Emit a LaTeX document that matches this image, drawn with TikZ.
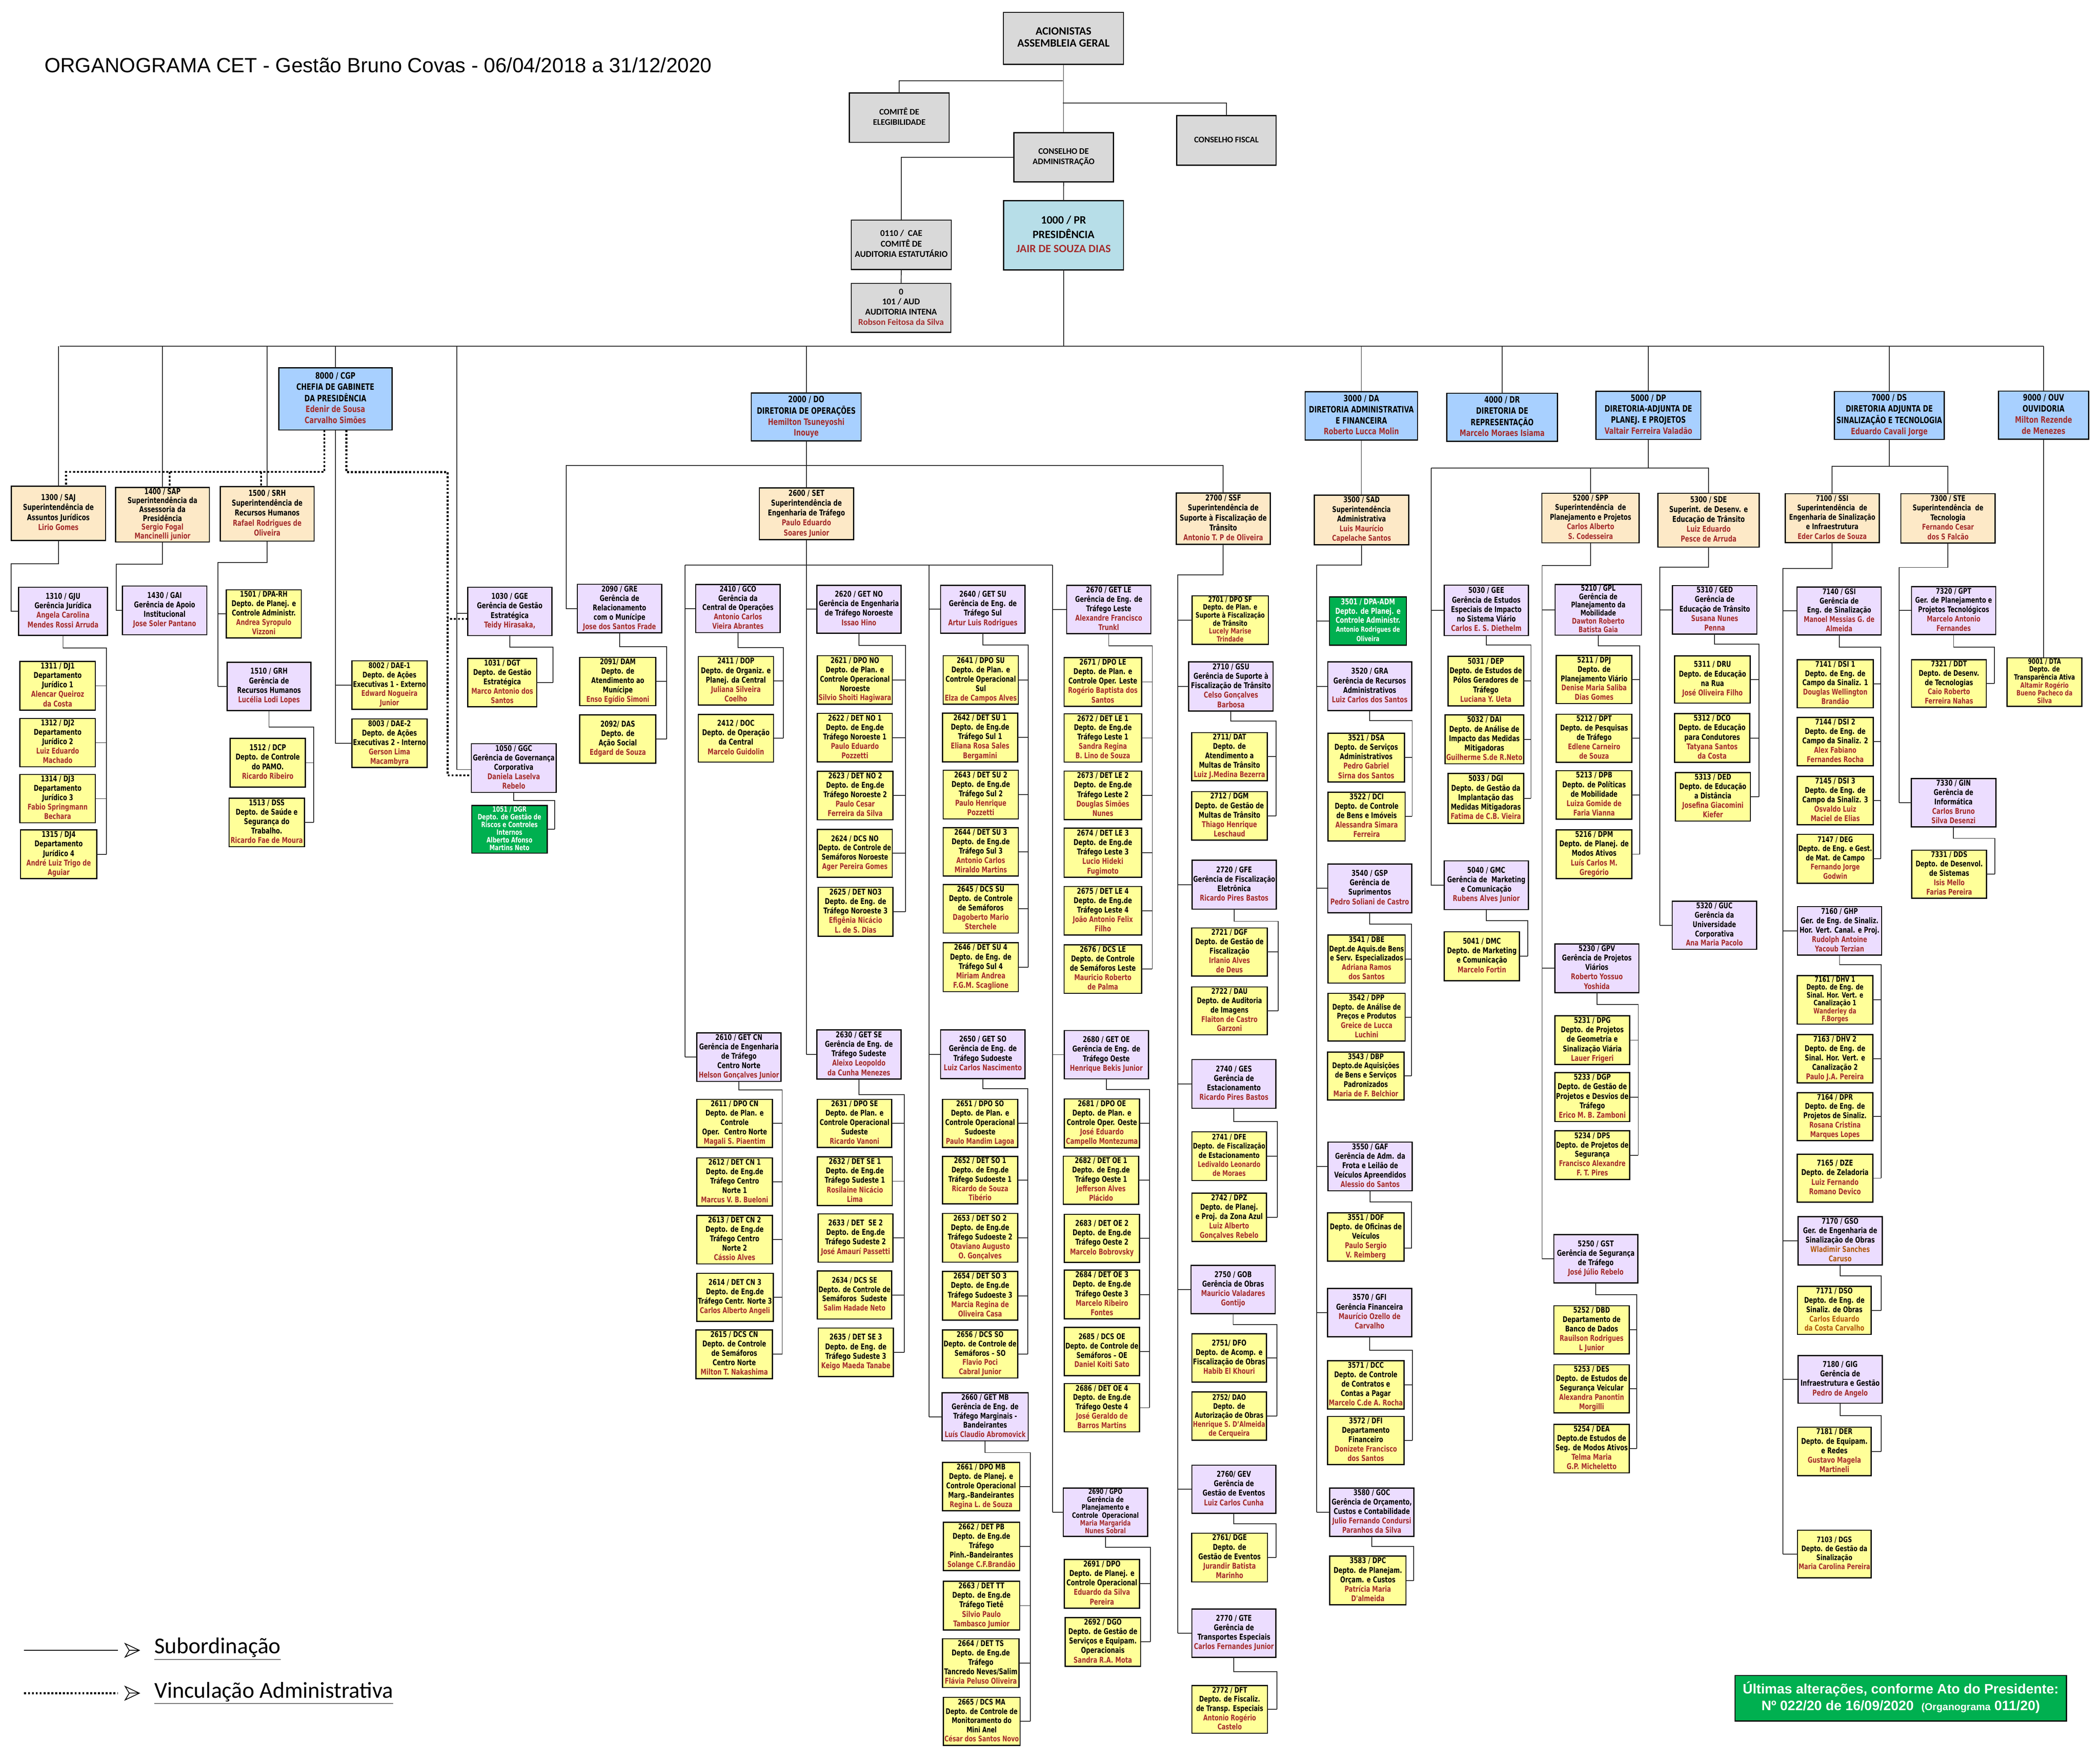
\documentclass[tikz,border=0pt]{standalone}
\usepackage{fontspec}
\usepackage{graphicx}
\usetikzlibrary{calc}
\setmainfont{DejaVu Sans}
\newfontfamily\bxf[FakeStretch=0.74]{DejaVu Sans}
\newfontfamily\clb{Carlito}
\newfontfamily\ars{Liberation Sans}
\newfontfamily\djv{DejaVu Sans}
\definecolor{greyf}{RGB}{217,217,217}
\definecolor{presf}{RGB}{183,222,232}
\definecolor{dirf}{RGB}{168,208,255}
\definecolor{supf}{RGB}{253,233,199}
\definecolor{gerf}{RGB}{236,221,255}
\definecolor{depf}{RGB}{255,255,153}
\definecolor{grnf}{RGB}{0,176,80}
\definecolor{nmred}{RGB}{165,45,45}
\definecolor{nmorg}{RGB}{178,90,10}
\newcommand\nm[1]{{\color{nmred}#1}}
\newcommand\no[1]{{\color{nmorg}#1}}
\newsavebox\fbx
\newdimen\fbw \newdimen\fbh
\newcommand\fitin[3]{\sbox\fbx{#3}\fbw=\wd\fbx\relax\fbh=\ht\fbx\relax\advance\fbh by \dp\fbx\relax
 \pgfmathsetmacro\fsc{min(1,(#1)/\fbw,(#2)/\fbh)}\scalebox{\fsc}{\usebox\fbx}}
\newcommand\bx[7]{%
 \pgfmathsetmacro\bw{#5-#3}\pgfmathsetmacro\bh{#6-#4}%
 \node[#1,minimum width=\bw pt,minimum height=\bh pt] (#2) at ({(#3+#5)/2},{(#4+#6)/2})
 {\fitin{\bw-1.8}{\bh-1.0}{\begin{tabular}{@{}c@{}}#7\end{tabular}}};}
\tikzset{
 bbox/.style={draw=black,line width=0.85pt,inner sep=0pt,outer sep=0pt},
 gry/.style={bbox,fill=greyf,font=\clb\bfseries\fontsize{6.4}{7.7}\selectfont},
 gryL/.style={bbox,fill=greyf,font=\clb\bfseries\fontsize{8.4}{8.8}\selectfont},
 prs/.style={bbox,fill=presf,font=\clb\bfseries\fontsize{8.4}{10.7}\selectfont},
 audb/.style={bbox,fill=greyf,font=\clb\bfseries\fontsize{6.6}{7.65}\selectfont},
 dir/.style={bbox,fill=dirf,font=\bxf\bfseries\fontsize{6.6}{8.2}\selectfont},
 sup/.style={bbox,fill=supf,font=\bxf\bfseries\fontsize{6.1}{7.4}\selectfont},
 sup6/.style={bbox,fill=supf,font=\bxf\bfseries\fontsize{6.1}{6.6}\selectfont},
 ger/.style={bbox,fill=gerf,font=\bxf\bfseries\fontsize{6}{7.1}\selectfont},
 ger6/.style={bbox,fill=gerf,font=\bxf\bfseries\fontsize{6}{6.0}\selectfont},
 dep/.style={bbox,fill=depf,font=\bxf\bfseries\fontsize{6}{7.1}\selectfont},
 dep6/.style={bbox,fill=depf,font=\bxf\bfseries\fontsize{6}{5.9}\selectfont},
 grn/.style={bbox,fill=grnf,text=white,font=\bxf\bfseries\fontsize{6}{6.8}\selectfont},
 grn6/.style={bbox,fill=grnf,text=white,font=\bxf\bfseries\fontsize{6}{5.8}\selectfont},
 conn/.style={draw=black!85,line width=0.6pt},
 vinc/.style={draw=black,line width=1.5pt,dash pattern=on 1.5pt off 1.4pt},
 arrsym/.style={draw=black,line width=0.6pt,fill=white,line join=miter},
}
\newcommand\grpR[5]{\draw[conn] (#1.south) |- (#3,#2) -- (#3,#2 |- #4.east);
 \foreach \ch in {#5}{\draw[conn] (\ch.east) -- (#3,#2 |- \ch.east);}}
\newcommand\grpL[5]{\draw[conn] (#1.south) |- (#3,#2) -- (#3,#2 |- #4.west);
 \foreach \ch in {#5}{\draw[conn] (\ch.west) -- (#3,#2 |- \ch.west);}}
\begin{document}
\begin{tikzpicture}[x=1pt,y=-1pt]
\fill[white] (0,0) rectangle (1568,1314.6);
\useasboundingbox (0,0) rectangle (1568,1314.6);
% title
\node[anchor=west,inner sep=0pt,font=\ars\fontsize{15.3}{18}\selectfont] (title) at (33,48.5) {ORGANOGRAMA CET - Gestão Bruno Covas - 06/04/2018 a 31/12/2020};
% top
\bx{gryL}{acion}{749.2}{9.3}{838.9}{48}{ACIONISTAS\\ASSEMBLEIA GERAL}
\bx{gry}{celeg}{634.2}{69.4}{708.7}{106.3}{COMITÊ DE\\ELEGIBILIDADE}
\bx{gry}{cfisc}{878.6}{86.3}{952.8}{123.3}{CONSELHO FISCAL}
\bx{gry}{cadm}{757}{99}{831.3}{135.8}{CONSELHO DE\\ADMINISTRAÇÃO}
\bx{prs}{n1000}{749.3}{149.9}{838.9}{201.4}{1000 / PR\\PRESIDÊNCIA\\\nm{JAIR DE SOUZA DIAS}}
\bx{audb}{n0110}{635.6}{164.3}{710.3}{201.1}{0110 / \ CAE\\COMITÊ DE\\AUDITORIA ESTATUTÁRIO}
\bx{audb}{n0101}{635.6}{211.5}{710}{248.1}{0\\101 / AUD\\AUDITORIA INTENA\\\nm{Robson Feitosa da Silva}}
% directors
\bx{dir}{n8000}{208.1}{274.6}{292.7}{321}{8000 / CGP\\CHEFIA DE GABINETE\\DA PRESIDÊNCIA\\\nm{Edenir de Sousa}\\\nm{Carvalho Simões}}
\bx{dir}{n2000}{561}{293.4}{643}{329.2}{2000 / DO\\DIRETORIA DE OPERAÇÕES\\\nm{Hemilton Tsuneyoshi}\\\nm{Inouye}}
\bx{dir}{n3000}{974.5}{292.5}{1058.4}{328.5}{3000 / DA\\DIRETORIA ADMINISTRATIVA\\E FINANCEIRA\\\nm{Roberto Lucca Molin}}
\bx{dir}{n4000}{1080.2}{293.6}{1163}{329.5}{4000 / DR\\DIRETORIA DE\\REPRESENTAÇÃO\\\nm{Marcelo Moraes Isiama}}
\bx{dir}{n5000}{1191.7}{292.1}{1269.9}{328}{5000 / DP\\DIRETORIA-ADJUNTA DE\\PLANEJ. E PROJETOS\\\nm{Valtair Ferreira Valadão}}
\bx{dir}{n7000}{1369.7}{292.3}{1451.6}{328}{7000 / DS\\DIRETORIA ADJUNTA DE\\SINALIZAÇÃO E TECNOLOGIA\\\nm{Eduardo Cavali Jorge}}
\bx{dir}{n9000}{1492.2}{292}{1559.5}{327.9}{9000 / OUV\\OUVIDORIA\\\nm{Milton Rezende}\\\nm{de Menezes}}
% superintendencias
\bx{sup}{n1300}{8.4}{362.9}{78.8}{403.5}{1300 / SAJ\\Superintendência de\\Assuntos Jurídicos\\\nm{Lirio Gomes}}
\bx{sup6}{n1400}{86.3}{364}{156.3}{404.6}{1400 / SAP\\Superintendência da\\Assessoria da\\Presidência\\\nm{Sergio Fogal}\\\nm{Mancinelli junior}}
\bx{sup}{n1500}{164.5}{363.3}{234.5}{404}{1500 / SRH\\Superintendência de\\Recursos Humanos\\\nm{Rafael Rodrigues de}\\\nm{Oliveira}}
\bx{sup}{n2600}{567}{364.2}{637.3}{402.9}{2600 / SET\\Superintendência de\\Engenharia de Tráfego\\\nm{Paulo Eduardo}\\\nm{Soares Junior}}
\bx{sup}{n2700}{878.2}{368}{948.5}{406.4}{2700 / SSF\\Superintendência de\\Suporte à Fiscalização de\\Trânsito\\\nm{Antonio T. P de Oliveira}}
\bx{sup}{n3500}{981.4}{369.6}{1051.8}{406.6}{3500 / SAD\\Superintendência\\Administrativa\\\nm{Luis Maurício}\\\nm{Capelache Santos}}
\bx{sup}{n5200}{1151.3}{368.2}{1223.9}{405.2}{5200 / SPP\\Superintendência \ de\\Planejamento e Projetos\\\nm{Carlos Alberto}\\\nm{S. Codesseira}}
\bx{sup}{n5300}{1237.9}{368.2}{1313.6}{408.4}{5300 / SDE\\Superint. de Desenv. e\\Educação de Trânsito\\\nm{Luiz Eduardo}\\\nm{Pesce de Arruda}}
\bx{sup}{n7100}{1332.9}{368.5}{1403.2}{405}{7100 / SSI\\Superintendência \ de\\Engenharia de Sinalização\\e Infraestrutura\\\nm{Eder Carlos de Souza}}
\bx{sup}{n7300}{1419.3}{368.5}{1489.7}{405.4}{7300 / STE\\Superintendência \ de\\Tecnologia\\\nm{Fernando Cesar}\\\nm{dos S Falcão}}
% left area
\bx{ger}{n1310}{13.8}{438.4}{80.3}{474.3}{1310 / GJU\\Gerência Jurídica\\\nm{Angela Carolina}\\\nm{Mendes Rossi Arruda}}
\bx{dep}{n1311}{14.9}{493.8}{71.2}{530.1}{1311 / DJ1\\Departamento\\Jurídico 1\\\nm{Alencar Queiroz}\\\nm{da Costa}}
\bx{dep}{n1312}{14.9}{536.4}{71.2}{572.4}{1312 / DJ2\\Departamento\\Jurídico 2\\\nm{Luiz Eduardo}\\\nm{Machado}}
\bx{dep}{n1314}{14.9}{578.2}{71.2}{614.2}{1314 / DJ3\\Departamento\\Jurídico 3\\\nm{Fabio Springmann}\\\nm{Bechara}}
\bx{dep}{n1315}{15.3}{619.6}{72.3}{655.9}{1315 / DJ4\\Departamento\\Jurídico 4\\\nm{André Luiz Trigo de}\\\nm{Aguiar}}
\bx{ger}{n1430}{91.4}{437.5}{154.4}{473.8}{1430 / GAI\\Gerência de Apoio\\Institucional\\\nm{Jose Soler Pantano}}
\bx{dep}{n1501}{168.9}{440.3}{225}{476.3}{1501 / DPA-RH\\Depto. de Planej. e\\Controle Administr.\\\nm{Andrea Syropulo}\\\nm{Vizzoni}}
\bx{ger}{n1510}{169.5}{494.4}{232.2}{530.4}{1510 / GRH\\Gerência de\\Recursos Humanos\\\nm{Lucélia Lodi Lopes}}
\bx{dep}{n1512}{171.8}{551.2}{228}{587.6}{1512 / DCP\\Depto. de Controle\\do PAMO.\\\nm{Ricardo Ribeiro}}
\bx{dep}{n1513}{171}{595.9}{227.3}{632.1}{1513 / DSS\\Depto. de Saúde e\\Segurança do\\Trabalho.\\\nm{Ricardo Fae de Moura}}
\bx{dep}{n8002}{262.7}{493.3}{318.9}{529.6}{8002 / DAE-1\\Depto. de Ações\\Executivas 1 - Externo\\\nm{Edward Nogueira}\\\nm{Junior}}
\bx{dep}{n8003}{262.7}{536.7}{318.9}{573}{8003 / DAE-2\\Depto. de Ações\\Executivas 2 - Interno\\\nm{Gerson Lima}\\\nm{Macambyra}}
\bx{ger}{n1030}{349.2}{438.4}{412}{474.5}{1030 / GGE\\Gerência de Gestão\\Estratégica\\\nm{Teidy Hirasaka,}}
\bx{dep}{n1031}{349.2}{491.6}{400.8}{527.6}{1031 / DGT\\Depto. de Gestão\\Estratégica\\\nm{Marco Antonio dos}\\\nm{Santos}}
\bx{ger}{n1050}{352}{555.2}{415.2}{591.6}{1050 / GGC\\Gerência de Governança\\Corporativa\\\nm{Daniela Laselva}\\\nm{Rebelo}}
\bx{grn6}{n1051}{352.3}{601.4}{408.5}{636.9}{1051 / DGR\\Depto. de Gestão de\\Riscos e Controles\\Internos\\Alberto Afonso\\Martins Neto}
\bx{ger}{n2090}{431.1}{436.2}{494}{472.3}{2090 / GRE\\Gerência de\\Relacionamento\\com o Munícipe\\\nm{Jose dos Santos Frade}}
\bx{dep}{n2091}{432.9}{490.7}{489.7}{526.8}{2091/ DAM\\Depto. de\\Atendimento ao\\Munícipe\\\nm{Enso Egídio Simoni}}
\bx{dep}{n2092}{432.9}{533.7}{489.7}{569.8}{2092/ DAS\\Depto. de\\Ação Social\\\nm{Edgard de Souza}}
% 2410
\bx{ger}{n2410}{519.5}{436.3}{582.5}{472.2}{2410 / GCO\\Gerência da\\Central de Operações\\\nm{Antonio Carlos}\\\nm{Vieira Abrantes}}
\bx{dep}{n2411}{521.4}{490.1}{577.5}{526.3}{2411 / DOP\\Depto. de Organiz. e\\Planej. da Central\\\nm{Juliana Silveira}\\\nm{Coelho}}
\bx{dep}{n2412}{521.4}{533.4}{577.5}{568.9}{2412 / DOC\\Depto. de Operação\\da Central\\\nm{Marcelo Guidolin}}
% 2620
\bx{ger}{n2620}{609.9}{436.9}{672.7}{472.7}{2620 / GET NO\\Gerência de Engenharia\\de Tráfego Noroeste\\\nm{Issao Hino}}
\bx{dep}{n2621}{610.3}{489.5}{666.3}{525.7}{2621 / DPO NO\\Depto. de Plan. e\\Controle Operacional\\Noroeste\\\nm{Silvio Shoiti Hagiwara}}
\bx{dep}{n2622}{610.3}{532.6}{666.3}{568.7}{2622 / DET NO 1\\Depto. de Eng.de\\Tráfego Noroeste 1\\\nm{Paulo Eduardo}\\\nm{Pozzetti}}
\bx{dep}{n2623}{610.3}{575.8}{666.8}{612}{2623 / DET NO 2\\Depto. de Eng.de\\Tráfego Noroeste 2\\\nm{Paulo Cesar}\\\nm{Ferreira da Silva}}
\bx{dep}{n2624}{610.3}{619.1}{666.3}{654.9}{2624 / DCS NO\\Depto. de Controle de\\Semáforos Noroeste\\\nm{Ager Pereira Gomes}}
\bx{dep}{n2625}{610.8}{662.4}{666.8}{698.9}{2625 / DET NO3\\Depto. de Eng. de\\Tráfego Noroeste 3\\\nm{Efigênia Nicácio}\\\nm{L. de S. Dias}}
% 2640
\bx{ger}{n2640}{702.3}{436.9}{765.4}{472.7}{2640 / GET SU\\Gerência de Eng. de\\Tráfego Sul\\\nm{Artur Luis Rodrigues}}
\bx{dep}{n2641}{704.2}{489.5}{760.4}{525.7}{2641 / DPO SU\\Depto. de Plan. e\\Controle Operacional\\Sul\\\nm{Elza de Campos Alves}}
\bx{dep}{n2642}{703.7}{532.3}{759.9}{568.7}{2642 / DET SU 1\\Depto. de Eng.de\\Tráfego Sul 1\\\nm{Eliana Rosa Sales}\\\nm{Bergamini}}
\bx{dep}{n2643}{704.2}{575}{760.4}{611.4}{2643 / DET SU 2\\Depto. de Eng.de\\Tráfego Sul 2\\\nm{Paulo Henrique}\\\nm{Pozzetti}}
\bx{dep}{n2644}{704.2}{617.8}{760.4}{654}{2644 / DET SU 3\\Depto. de Eng.de\\Tráfego Sul 3\\\nm{Antonio Carlos}\\\nm{Miraldo Martins}}
\bx{dep}{n2645}{704.2}{660.4}{760.4}{696.6}{2645 / DCS SU\\Depto. de Controle\\de Semáforos\\\nm{Dagoberto Mario}\\\nm{Sterchele}}
\bx{dep}{n2646}{704.2}{703.8}{760.4}{740.3}{2646 / DET SU 4\\Depto. de Eng. de\\Tráfego Sul 4\\\nm{Miriam Andrea}\\\nm{F.G.M. Scaglione}}
% 2670
\bx{ger}{n2670}{796.4}{437}{859.3}{473.1}{2670 / GET LE\\Gerência de Eng. de\\Tráfego Leste\\\nm{Alexandre Francisco}\\\nm{Trunkl}}
\bx{dep}{n2671}{794.5}{491}{852.4}{527.2}{2671 / DPO LE\\Depto. de Plan. e\\Controle Oper. Leste\\\nm{Rogério Baptista dos}\\\nm{Santos}}
\bx{dep}{n2672}{794.5}{532.9}{852.4}{568.9}{2672 / DET LE 1\\Depto. de Eng.de\\Tráfego Leste 1\\\nm{Sandra Regina}\\\nm{B. Lino de Souza}}
\bx{dep}{n2673}{794.5}{575.6}{852.4}{611.8}{2673 / DET LE 2\\Depto. de Eng.de\\Tráfego Leste 2\\\nm{Douglas Simões}\\\nm{Nunes}}
\bx{dep}{n2674}{794.5}{618.3}{852.4}{654.9}{2674 / DET LE 3\\Depto. de Eng.de\\Tráfego Leste 3\\\nm{Lucio Hideki}\\\nm{Fugimoto}}
\bx{dep}{n2675}{794.5}{661.8}{852.4}{698.1}{2675 / DET LE 4\\Depto. de Eng.de\\Tráfego Leste 4\\\nm{João Antonio Felix}\\\nm{Filho}}
\bx{dep}{n2676}{794.5}{705.4}{852.4}{741.6}{2676 / DCS LE\\Depto. de Controle\\de Semáforos Leste\\\nm{Mauricio Roberto}\\\nm{de Palma}}
% 2700 branch
\bx{dep6}{n2701}{890}{444.8}{947}{481.1}{2701 / DPO SF\\Depto. de Plan. e\\Suporte à Fiscalização\\de Trânsito\\\nm{Lucely Marise}\\\nm{Trindade}}
\bx{ger}{n2710}{887.6}{494.2}{950.6}{530.8}{2710 / GSU\\Gerência de Suporte à\\Fiscalização de Trânsito\\\nm{Celso Gonçalves}\\\nm{Barbosa}}
\bx{dep}{n2711}{889.8}{546.9}{946.2}{582.8}{2711/ DAT\\Depto. de\\Atendimento a\\Multas de Trânsito\\\nm{Luiz J.Medina Bezerra}}
\bx{dep}{n2712}{889.8}{590.9}{946.2}{627.2}{2712 / DGM\\Depto. de Gestão de\\Multas de Trânsito\\\nm{Thiago Henrique}\\\nm{Leschaud}}
\bx{ger}{n2720}{890}{642.2}{953}{678.7}{2720 / GFE\\Gerência de Fiscalização\\Eletrônica\\\nm{Ricardo Pires Bastos}}
\bx{dep}{n2721}{889.8}{692.7}{946.2}{728.7}{2721 / DGF\\Depto. de Gestão de\\Fiscalização\\\nm{Irlanio Alves}\\\nm{de Deus}}
\bx{dep}{n2722}{889.8}{736.8}{946.2}{772.5}{2722 / DAU\\Depto. de Auditoria\\de Imagens\\\nm{Flaiton de Castro}\\\nm{Garzoni}}
\bx{ger}{n2740}{889.9}{791}{952.7}{827.4}{2740 / GES\\Gerência de\\Estacionamento\\\nm{Ricardo Pires Bastos}}
\bx{dep}{n2741}{889.9}{844.9}{945.6}{881.3}{2741 / DFE\\Depto. de Fiscalização\\de Estacionamento\\\nm{Ledivaldo Leonardo}\\\nm{de Moraes}}
\bx{dep}{n2742}{889.9}{890.7}{945.6}{926.8}{2742 / DPZ\\Depto. de Planej.\\e Proj. da Zona Azul\\\nm{Luiz Alberto}\\\nm{Gonçalves Rebelo}}
\bx{ger}{n2750}{889.3}{944.7}{952.1}{980.7}{2750 / GOB\\Gerência de Obras\\\nm{Mauricio Valadares}\\\nm{Gontijo}}
\bx{dep}{n2751}{889.9}{995.8}{945.6}{1031.8}{2751/ DFO\\Depto. de Acomp. e\\Fiscalização de Obras\\\nm{Habib El Khouri}}
\bx{dep}{n2752}{889.9}{1039.2}{945.6}{1075.2}{2752/ DAO\\Depto. de\\Autorização de Obras\\\nm{Henrique S. D’Almeida}\\\nm{de Cerqueira}}
\bx{ger}{n2760}{889.9}{1093.8}{952.7}{1129.8}{2760/ GEV\\Gerência de\\Gestão de Eventos\\\nm{Luiz Carlos Cunha}}
\bx{dep}{n2761}{889.7}{1144.5}{946.4}{1180.9}{2761/ DGE\\Depto. de\\Gestão de Eventos\\\nm{Jurandir Batista}\\\nm{Marinho}}
\bx{ger}{n2770}{889.9}{1201.2}{952.7}{1237.3}{2770 / GTE\\Gerência de\\Transportes Especiais\\\nm{Carlos Fernandes Junior}}
\bx{dep}{n2772}{889.9}{1258.3}{946.4}{1293.9}{2772 / DFT\\Depto. de Fiscaliz.\\de Transp. Especiais\\\nm{Antonio Rogério}\\\nm{Castelo}}
% 2610
\bx{ger}{n2610}{520.2}{771.1}{583.2}{807.3}{2610 / GET CN\\Gerência de Engenharia\\de Tráfego\\Centro Norte\\\nm{Helson Gonçalves Junior}}
\bx{dep}{n2611}{520.2}{820.7}{576.8}{856.6}{2611 / DPO CN\\Depto. de Plan. e\\Controle\\Oper. \ Centro Norte\\\nm{Magali S. Piaentim}}
\bx{dep}{n2612}{520.2}{864.4}{576.8}{900.2}{2612 / DET CN 1\\Depto. de Eng.de\\Tráfego Centro\\Norte 1\\\nm{Marcus V. B. Bueloni}}
\bx{dep}{n2613}{520.2}{907.3}{576.8}{943.5}{2613 / DET CN 2\\Depto. de Eng.de\\Tráfego Centro\\Norte 2\\\nm{Cássio Alves}}
\bx{dep}{n2614}{520.2}{950.6}{577.3}{986.5}{2614 / DET CN 3\\Depto. de Eng.de\\Tráfego Centr. Norte 3\\\nm{Carlos Alberto Angeli}}
\bx{dep}{n2615}{519.7}{992.8}{576.8}{1029.1}{2615 / DCS CN\\Depto. de Controle\\de Semáforos\\Centro Norte\\\nm{Milton T. Nakashima}}
% 2630
\bx{ger}{n2630}{609.9}{768.9}{672.7}{805.5}{2630 / GET SE\\Gerência de Eng. de\\Tráfego Sudeste\\\nm{Aleixo Leopoldo}\\\nm{da Cunha Menezes}}
\bx{dep}{n2631}{610.3}{820.7}{665.8}{856.6}{2631 / DPO SE\\Depto. de Plan. e\\Controle Operacional\\Sudeste\\\nm{Ricardo Vanoni}}
\bx{dep}{n2632}{610.3}{863.7}{666.3}{899.9}{2632 / DET SE 1\\Depto. de Eng.de\\Tráfego Sudeste 1\\\nm{Rosilaine Nicácio}\\\nm{Lima}}
\bx{dep}{n2633}{610.8}{906.2}{666.8}{942.2}{2633 / DET \ SE 2\\Depto. de Eng.de\\Tráfego Sudeste 2\\\nm{José Amaurí Passetti}}
\bx{dep}{n2634}{610.3}{948.8}{665.8}{984.7}{2634 / DCS SE\\Depto. de Controle de\\Semáforos \ Sudeste\\\nm{Salim Hadade Neto}}
\bx{dep}{n2635}{611}{991.4}{667}{1027.7}{2635 / DET SE 3\\Depto. de Eng. de\\Tráfego Sudeste 3\\\nm{Keigo Maeda Tanabe}}
% 2650
\bx{ger}{n2650}{702.3}{768.9}{765.4}{805.2}{2650 / GET SO\\Gerência de Eng. de\\Tráfego Sudoeste\\\nm{Luiz Carlos Nascimento}}
\bx{dep}{n2651}{703.7}{820.7}{759.9}{856.6}{2651 / DPO SO\\Depto. de Plan. e\\Controle Operacional\\Sudoeste\\\nm{Paulo Mandim Lagoa}}
\bx{dep}{n2652}{703.7}{863.2}{759.9}{898.8}{2652 / DET SO 1\\Depto. de Eng.de\\Tráfego Sudoeste 1\\\nm{Ricardo de Souza}\\\nm{Tibério}}
\bx{dep}{n2653}{703.7}{905.9}{759.9}{942.2}{2653 / DET SO 2\\Depto. de Eng.de\\Tráfego Sudoeste 2\\\nm{Otaviano Augusto}\\\nm{O. Gonçalves}}
\bx{dep}{n2654}{703.7}{949.2}{759.9}{985.5}{2654 / DET SO 3\\Depto. de Eng.de\\Tráfego Sudoeste 3\\\nm{Marcia Regina de}\\\nm{Oliveira Casa}}
\bx{dep}{n2656}{703.7}{992.8}{759.9}{1028.7}{2656 / DCS SO\\Depto. de Controle de\\Semáforos – SO\\\nm{Flavio Poci}\\\nm{Cabral Junior}}
% 2660
\bx{ger}{n2660}{703.4}{1039.7}{767.7}{1075.6}{2660 / GET MB\\Gerência de Eng. de\\Tráfego Marginais -\\Bandeirantes\\\nm{Luís Claudio Abromovick}}
\bx{dep}{n2661}{703.8}{1091.8}{761.3}{1127.7}{2661 / DPO MB\\Depto. de Planej. e\\Controle Operacional\\Marg.–Bandeirantes\\\nm{Regina L. de Souza}}
\bx{dep}{n2662}{704.3}{1136.5}{761.3}{1172.4}{2662 / DET PB\\Depto. de Eng.de\\Tráfego\\Pinh.–Bandeirantes\\\nm{Solange C.F.Brandão}}
\bx{dep}{n2663}{704.3}{1180.5}{761.3}{1216.8}{2663 / DET TT\\Depto. de Eng.de\\Tráfego Tietê\\\nm{Silvio Paulo}\\\nm{Tambasco Jumior}}
\bx{dep}{n2664}{703.8}{1223.4}{760.9}{1259.7}{2664 / DET TS\\Depto. de Eng.de\\Tráfego\\Tancredo Neves/Salim\\\nm{Flávia Peluso Oliveira}}
\bx{dep}{n2665}{704.3}{1267.1}{761.6}{1303}{2665 / DCS MA\\Depto. de Controle de\\Monitoramento do\\Mini Anel\\\nm{César dos Santos Novo}}
% 2680
\bx{ger}{n2680}{794.6}{769.3}{857.5}{805.4}{2680 / GET OE\\Gerência de Eng. de\\Tráfego Oeste\\\nm{Henrique Bekis Junior}}
\bx{dep}{n2681}{794.6}{820.4}{850.9}{856.8}{2681 / DPO OE\\Depto. de Plan. e\\Controle Oper. Oeste\\\nm{José Eduardo}\\\nm{Campello Montezuma}}
\bx{dep}{n2682}{793.9}{863.1}{850.3}{899}{2682 / DET OE 1\\Depto. de Eng.de\\Tráfego Oeste 1\\\nm{Jefferson Alves}\\\nm{Plácido}}
\bx{dep}{n2683}{794.6}{906.5}{850.9}{942.5}{2683 / DET OE 2\\Depto. de Eng.de\\Tráfego Oeste 2\\\nm{Marcelo Bobrovsky}}
\bx{dep}{n2684}{794.6}{948.2}{850.9}{984.6}{2684 / DET OE 3\\Depto. de Eng.de\\Tráfego Oeste 3\\\nm{Marcelo Ribeiro}\\\nm{Fontes}}
\bx{dep}{n2685}{794.6}{990.9}{850.9}{1026.9}{2685 / DCS OE\\Depto. de Controle de\\Semáforos – OE\\\nm{Daniel Koiti Sato}}
\bx{dep}{n2686}{794.6}{1032.9}{850.9}{1068.9}{2686 / DET OE 4\\Depto. de Eng.de\\Tráfego Oeste 4\\\nm{José Geraldo de}\\\nm{Barros Martins}}
% 2690
\bx{ger6}{n2690}{793.9}{1110.9}{856.8}{1146.9}{2690 / GPO\\Gerência de\\Planejamento e\\Controle \ Operacional\\\nm{Maria Margarida}\\\nm{Nunes Sobral}}
\bx{dep}{n2691}{794.6}{1164.1}{850.9}{1200.5}{2691 / DPO\\Depto. de Planej. e\\Controle Operacional\\\nm{Eduardo da Silva}\\\nm{Pereira}}
\bx{dep}{n2692}{795.3}{1207.5}{851.6}{1243.9}{2692 / DGO\\Depto. de Gestão de\\Serviços e Equipam.\\Operacionais\\\nm{Sandra R.A. Mota}}
% 3500 branch
\bx{grn}{n3501}{992.7}{445.7}{1050.1}{481.7}{3501 / DPA-ADM\\Depto. de Planej. e\\Controle Administr.\\{\fontsize{5.3}{5}\selectfont Antonio Rodrigues de}\\{\fontsize{5.3}{5}\selectfont Oliveira}}
\bx{ger}{n3520}{991.4}{494.2}{1054}{530.5}{3520 / GRA\\Gerência de Recursos\\Administrativos\\\nm{Luiz Carlos dos Santos}}
\bx{dep}{n3521}{991.6}{547.4}{1048.6}{583.7}{3521 / DSA\\Depto. de Serviços\\Administrativos\\\nm{Pedro Gabriel}\\\nm{Sirna dos Santos}}
\bx{dep}{n3522}{991.6}{591.4}{1049.2}{627.7}{3522 / DCI\\Depto. de Controle\\de Bens e Imóveis\\\nm{Alessandra Simara}\\\nm{Ferreira}}
\bx{ger}{n3540}{991.4}{645}{1054}{681.3}{3540 / GSP\\Gerência de\\Suprimentos\\\nm{Pedro Soliani de Castro}}
\bx{dep}{n3541}{991.6}{697.9}{1049.2}{733.9}{3541 / DBE\\Dept.de Aquis.de Bens\\e Serv. Especializados\\\nm{Adriana Ramos}\\\nm{dos Santos}}
\bx{dep}{n3542}{991.6}{741.5}{1049.2}{777.1}{3542 / DPP\\Depto. de Análise de\\Preços e Produtos\\\nm{Greice de Lucca}\\\nm{Luchini}}
\bx{dep}{n3543}{991.2}{785.4}{1048.4}{821.1}{3543 / DBP\\Depto.de Aquisições\\de Bens e Serviços\\Padronizados\\\nm{Maria de F. Belchior}}
\bx{ger}{n3550}{991.6}{852.6}{1054.5}{889}{3550 / GAF\\Gerência de Adm. da\\Frota e Leilão de\\Veículos Apreendidos\\\nm{Alessio do Santos}}
\bx{dep}{n3551}{991.2}{905.4}{1048.4}{941.5}{3551 / DOF\\Depto. de Oficinas de\\Veículos\\\nm{Paulo Sergio}\\\nm{V. Reimberg}}
\bx{ger}{n3570}{991.2}{961.8}{1054}{997.9}{3570 / GFI\\Gerência Financeira\\\nm{Maurício Ozello de}\\\nm{Carvalho}}
\bx{dep}{n3571}{991.2}{1015.9}{1048.4}{1051.9}{3571 / DCC\\Depto. de Controle\\de Contratos e\\Contas a Pagar\\\nm{Marcelo C.de A. Rocha}}
\bx{dep}{n3572}{991.2}{1057.4}{1048.4}{1093.4}{3572 / DFI\\Departamento\\Financeiro\\\nm{Donizete Francisco}\\\nm{dos Santos}}
\bx{ger}{n3580}{992.8}{1110.9}{1055.7}{1146.9}{3580 / GOC\\Gerência de Orçamento,\\Custos e Contabilidade\\\nm{Julio Fernando Condursi}\\\nm{Paranhos da Silva}}
\bx{dep}{n3583}{992.8}{1161.7}{1049.8}{1198.1}{3583 / DPC\\Depto. de Planejam.\\Orçam. e Custos\\\nm{Patrícia Maria}\\\nm{D'almeida}}
% 5000 branch
\bx{ger}{n5030}{1078.3}{436.8}{1141.2}{474.5}{5030 / GEE\\Gerência de Estudos\\Especiais de Impacto\\no Sistema Viário\\\nm{Carlos E. S. Diethelm}}
\bx{dep}{n5031}{1081.2}{489.9}{1137.6}{526.9}{5031 / DEP\\Depto. de Estudos de\\Pólos Geradores de\\Tráfego\\\nm{Luciana Y. Ueta}}
\bx{dep}{n5032}{1079}{533.7}{1137.6}{570.2}{5032 / DAI\\Depto. de Análise de\\Impacto das Medidas\\Mitigadoras\\\nm{Guilherme S.de R.Neto}}
\bx{dep}{n5033}{1081.2}{577.3}{1137.6}{614.7}{5033 / DGI\\Depto. de Gestão da\\Implantação das\\Medidas Mitigadoras\\\nm{Fatima de C.B. Vieira}}
\bx{ger}{n5040}{1078.3}{642.6}{1141.2}{679}{5040 / GMC\\Gerência de \ Marketing\\e Comunicação\\\nm{Rubens Alves Junior}}
\bx{dep}{n5041}{1078.3}{695.6}{1134.6}{732.1}{5041 / DMC\\Depto. de Marketing\\e Comunicação\\\nm{Marcelo Fortin}}
\bx{ger6}{n5210}{1161.1}{436.3}{1225.6}{474.2}{5210 / GPL\\Gerência de\\Planejamento da\\Mobilidade\\\nm{Dawton Roberto}\\\nm{Batista Gaia}}
\bx{dep}{n5211}{1162}{489.3}{1218.5}{525.2}{5211 / DPJ\\Depto. de\\Planejamento Viário\\\nm{Denise Maria Saliba}\\\nm{Dias Gomes}}
\bx{dep}{n5212}{1162}{533.2}{1218.5}{569}{5212 / DPT\\Depto. de Pesquisas\\de Tráfego\\\nm{Edlene Carneiro}\\\nm{de Souza}}
\bx{dep}{n5213}{1162}{575.3}{1218.5}{611.5}{5213 / DPB\\Depto. de Políticas\\de Mobilidade\\\nm{Luiza Gomide de}\\\nm{Faria Vianna}}
\bx{dep}{n5216}{1162}{619.5}{1218.5}{655.9}{5216 / DPM\\Depto. de Planej. de\\Modos Ativos\\\nm{Luís Carlos M.}\\\nm{Gregório}}
\bx{ger}{n5230}{1160.9}{704.7}{1223.7}{741}{5230 / GPV\\Gerência de Projetos\\Viários\\\nm{Roberto Yossuo}\\\nm{Yoshida}}
\bx{dep}{n5231}{1160.9}{758.4}{1216.9}{794.6}{5231 / DPG\\Depto. de Projetos\\de Geometria e\\Sinalização Viária\\\nm{Lauer Frigeri}}
\bx{dep}{n5233}{1160.9}{800.7}{1216.9}{837.3}{5233 / DGP\\Depto. de Gestão de\\Projetos e Desvios de\\Tráfego\\\nm{Erico M. B. Zamboni}}
\bx{dep}{n5234}{1160.9}{844.2}{1216.9}{880.5}{5234 / DPS\\Depto. de Projetos de\\Segurança\\\nm{Francisco Alexandre}\\\nm{F. T. Pires}}
\bx{ger}{n5250}{1160.2}{921.7}{1222.8}{957.7}{5250 / GST\\Gerência de Segurança\\de Tráfego\\\nm{José Júlio Rebelo}}
\bx{dep}{n5252}{1160.2}{974.8}{1216.6}{1010.8}{5252 / DBD\\Departamento de\\Banco de Dados\\\nm{Rauilson Rodrigues}\\\nm{L Junior}}
\bx{dep}{n5253}{1160.2}{1018.8}{1216.6}{1054.8}{5253 / DES\\Depto. de Estudos de\\Segurança Veicular\\\nm{Alexandra Panontin}\\\nm{Morgilli}}
\bx{dep}{n5254}{1160.2}{1063.4}{1216.6}{1099.6}{5254 / DEA\\Depto.de Estudos de\\Seg. de Modos Ativos\\\nm{Telma Maria}\\\nm{G.P. Micheletto}}
\bx{ger}{n5310}{1248.8}{437.1}{1311.8}{473.3}{5310 / GED\\Gerência de\\Educação de Trânsito\\\nm{Susana Nunes}\\\nm{Penna}}
\bx{dep}{n5311}{1250.4}{489.6}{1306.9}{524.9}{5311 / DRU\\Depto. de Educação\\na Rua\\\nm{José Oliveira Filho}}
\bx{dep}{n5312}{1250.4}{532.8}{1306.4}{569.1}{5312 / DCO\\Depto. de Educação\\para Condutores\\\nm{Tatyana Santos}\\\nm{da Costa}}
\bx{dep}{n5313}{1250.9}{576.7}{1307}{613}{5313 / DED\\Depto. de Educação\\a Distância\\\nm{Josefina Giacomini}\\\nm{Kiefer}}
\bx{ger}{n5320}{1248.6}{672.8}{1311.5}{708.7}{5320 / GUC\\Gerência da\\Universidade\\Corporativa\\\nm{Ana Maria Pacolo}}
% 7000 branch
\bx{ger}{n7140}{1341.8}{438.3}{1404.6}{473.9}{7140 / GSI\\Gerência de\\Eng. de Sinalização\\\nm{Manoel Messias G. de}\\\nm{Almeida}}
\bx{dep}{n7141}{1341.9}{492.4}{1398.7}{528.4}{7141 / DSI 1\\Depto. de Eng. de\\Campo da Sinaliz. 1\\\nm{Douglas Wellington}\\\nm{Brandão}}
\bx{dep}{n7144}{1341.9}{535.5}{1398.7}{571.6}{7144 / DSI 2\\Depto. de Eng. de\\Campo da Sinaliz. 2\\\nm{Alex Fabiano}\\\nm{Fernandes Rocha}}
\bx{dep}{n7145}{1341.9}{579.6}{1398.7}{615.7}{7145 / DSI 3\\Depto. de Eng. de\\Campo da Sinaliz. 3\\\nm{Osvaldo Luiz}\\\nm{Maciel de Elias}}
\bx{dep}{n7147}{1341.9}{622.8}{1398.7}{659.3}{7147 / DEG\\Depto. de Eng. e Gest.\\de Mat. de Campo\\\nm{Fernando Jorge}\\\nm{Godwin}}
\bx{ger}{n7160}{1342.1}{676.8}{1404.9}{712.9}{7160 / GHP\\Ger. de Eng. de Sinaliz.\\Hor. Vert. Canal. e Proj.\\\nm{Rudolph Antoine}\\\nm{Yacoub Terzian}}
\bx{dep6}{n7161}{1341.9}{728.4}{1398.3}{764.5}{7161 / DHV 1\\Depto. de Eng. de\\Sinal. Hor. Vert. e\\Canalização 1\\\nm{Wanderley da}\\\nm{F.Borges}}
\bx{dep}{n7163}{1341.9}{772.4}{1398.3}{808.5}{7163 / DHV 2\\Depto. de Eng. de\\Sinal. Hor. Vert. e\\Canalização 2\\\nm{Paulo J.A. Pereira}}
\bx{dep}{n7164}{1341.9}{815.7}{1398.3}{851.4}{7164 / DPR\\Depto. de Eng. de\\Projetos de Sinaliz.\\\nm{Rosana Cristina}\\\nm{Marques Lopes}}
\bx{dep}{n7165}{1341.9}{861.7}{1398.3}{897.4}{7165 / DZE\\Depto. de Zeladoria\\\nm{Luiz Fernando}\\\nm{Romano Devico}}
\bx{ger}{n7170}{1342.5}{908.2}{1405.4}{944.4}{7170 / GSO\\Ger. de Engenharia de\\Sinalização de Obras\\\no{Wladimir Sanches}\\\no{Caruso}}
\bx{dep}{n7171}{1342.1}{960.3}{1397.2}{996.2}{7171 / DSO\\Depto. de Eng. de\\Sinaliz. de Obras\\\no{Carlos Eduardo}\\\no{da Costa Carvalho}}
\bx{ger}{n7180}{1342.5}{1011.9}{1405.4}{1047.6}{7180 / GIG\\Gerência de\\Infraestrutura e Gestão\\\nm{Pedro de Angelo}}
\bx{dep}{n7181}{1342.1}{1065.4}{1397.2}{1101.6}{7181 / DER\\Depto. de Equipam.\\e Redes\\\nm{Gustavo Magela}\\\nm{Martineli}}
\bx{dep}{n7103}{1342.1}{1142.3}{1397.2}{1177.9}{7103 / DGS\\Depto. de Gestão da\\Sinalização\\\nm{Maria Carolina Pereira}}
\bx{ger}{n7320}{1427.3}{437.9}{1490.1}{473.6}{7320 / GPT\\Ger. de Planejamento e\\Projetos Tecnológicos\\\nm{Marcelo Antonio}\\\nm{Fernandes}}
\bx{dep}{n7321}{1427.3}{492.4}{1483.1}{528}{7321 / DDT\\Depto. de Desenv.\\de Tecnologias\\\nm{Caio Roberto}\\\nm{Ferreira Nahas}}
\bx{ger}{n7330}{1427}{581.2}{1490.2}{617.3}{7330 / GIN\\Gerência de\\Informática\\\nm{Carlos Bruno}\\\nm{Silva Desenzi}}
\bx{dep}{n7331}{1427.5}{634.7}{1483.3}{670.5}{7331 / DDS\\Depto. de Desenvol.\\de Sistemas\\\nm{Isis Mello}\\\nm{Farias Pereira}}
\bx{dep6}{n9001}{1498.6}{491.1}{1554.5}{527.2}{9001 / DTA\\Depto. de\\Transparência Ativa\\\nm{Altamir Rogério}\\\nm{Bueno Pacheco da}\\\nm{Silva}}
% ---------------- connectors ----------------
\draw[conn] (acion.south) -- (acion.south |- cadm.north);
\coordinate (t1) at (793.7,60.4); \draw[conn] (t1) -| (celeg.north);
\coordinate (t2) at (793.7,76.8); \draw[conn] (t2) -| (cfisc.north);
\draw[conn] (cadm.south) -- (n1000.north);
\draw[conn] (cadm.west) -| (n0110.north);
\draw[conn] (n0110.south) -- (n0101.north);
\coordinate (busL) at (44.6,258.5); \coordinate (busR) at (1525.8,258.5);
\draw[conn] (n1000.south) -- (n1000.south |- busL);
\draw[conn] (busL) -- (busR);
\foreach \ch in {n1300,n1400,n1500,n8000,n2000,n3000,n4000,n5000,n7000,n9000}{\draw[conn] (\ch.north |- busL) -- (\ch.north);}
% vinculacao
\draw[vinc] (n8000.south -| 242.2,0) -- (242.2,352.3) -- (49.4,352.3) -- (49.4,0 |- n1300.north);
\draw[vinc] (126.7,352.3) -- (126.7,0 |- n1400.north);
\draw[vinc] (195,352.3) -- (195,0 |- n1500.north);
\coordinate (gd1) at ($(n1030.west)+(0,5.6)$);
\coordinate (gd2) at ($(n1050.west)+(0,5.4)$);
\draw[vinc] (n8000.south -| 258.6,0) -- (258.6,352.4) -- (334.2,352.4) -- (334.2,0 |- gd2) -- (gd2);
\draw[vinc] (gd1) -- (gd1 -| 334.2,0);
% gge / ggc solid
\coordinate (gv0) at (341.2,258.5);
\coordinate (gs1) at ($(n1030.west)+(0,1.3)$);
\coordinate (gs2) at ($(n1050.west)+(0,1.1)$);
\draw[conn] (gv0) -- (gv0 |- gs2) -- (gs2);
\draw[conn] (gs1) -- (gs1 -| gv0);
% cgp
\draw[conn] (n8000.south) -- (n8000.south |- n8003.west) -- (n8003.west);
\draw[conn] (n8002.west) -- (n8002.west -| n8000.south);
% saj sap srh
\draw[conn] (n1300.south) |- (8.4,420.8) |- (n1310.west);
\draw[conn] (n1400.south) |- (86.7,421.1) |- (n1430.west);
\grpL{n1500}{420}{162.6}{n1510}{n1501,n1510}
\grpR{n1310}{483.7}{79.4}{n1315}{n1311,n1312,n1314,n1315}
\grpR{n1510}{542.7}{234.1}{n1513}{n1512,n1513}
\grpR{n1030}{483.1}{412.8}{n1031}{n1031}
\grpR{n1050}{597.7}{414.3}{n1051}{n1051}
\grpR{n2090}{482.8}{497.8}{n2092}{n2091,n2092}
% DO
\draw[conn] (n2000.south) -- (n2000.south |- n2600.north);
\draw[conn] (n2090.west) -| (422.7,347.5) -| (n2700.north);
\coordinate (setm) at (602.15,421.7);
\draw[conn] (n2600.south) -- (setm);
\draw[conn] (511.4,421.7) -- (786,421.7);
\draw[conn] (511.4,421.7) -- (511.4,0 |- n2610.west);
\draw[conn] (setm) -- (setm |- n2630.west);
\draw[conn] (693.7,421.7) -- (693.7,0 |- n2660.west);
\draw[conn] (786,421.7) -- (786,0 |- n2690.west);
\foreach \ch in {n2410,n2610}{\draw[conn] (\ch.west) -- (511.4,0 |- \ch.west);}
\foreach \ch in {n2620,n2630}{\draw[conn] (\ch.west) -- (602.15,0 |- \ch.west);}
\foreach \ch in {n2640,n2650,n2660}{\draw[conn] (\ch.west) -- (693.7,0 |- \ch.west);}
\foreach \ch in {n2670,n2680,n2690}{\draw[conn] (\ch.west) -- (786,0 |- \ch.west);}
\grpR{n2410}{483.3}{584.8}{n2412}{n2411,n2412}
\grpR{n2620}{481.7}{676}{n2625}{n2621,n2622,n2623,n2624,n2625}
\grpR{n2640}{481.5}{767.8}{n2646}{n2641,n2642,n2643,n2644,n2645,n2646}
\grpR{n2670}{482.1}{860.4}{n2676}{n2671,n2672,n2673,n2674,n2675,n2676}
\grpR{n2610}{813.6}{584.1}{n2615}{n2611,n2612,n2613,n2614,n2615}
\grpR{n2630}{817.2}{675.1}{n2635}{n2631,n2632,n2633,n2634,n2635}
\grpR{n2650}{812.6}{767.5}{n2656}{n2651,n2652,n2653,n2654,n2656}
\grpR{n2660}{1084.4}{769.3}{n2665}{n2661,n2662,n2663,n2664,n2665}
\grpR{n2680}{813.4}{858.2}{n2686}{n2681,n2682,n2683,n2684,n2685,n2686}
\grpR{n2690}{1155.2}{859}{n2692}{n2691,n2692}
% SSF
\grpL{n2700}{429.2}{879.5}{n2770}{n2701,n2710,n2720,n2740,n2750,n2760,n2770}
\grpR{n2710}{538.2}{952.9}{n2712}{n2711,n2712}
\grpR{n2720}{687.8}{954.3}{n2722}{n2721,n2722}
\grpR{n2740}{837.2}{953.7}{n2742}{n2741,n2742}
\grpR{n2750}{988.7}{953.4}{n2752}{n2751,n2752}
\grpR{n2760}{1137.5}{952.7}{n2761}{n2761}
\grpR{n2770}{1247.8}{953.4}{n2772}{n2772}
% DA
\draw[conn] (n3000.south) -- (n3000.south |- n3500.north);
\grpL{n3500}{421.9}{983.1}{n3580}{n3501,n3520,n3540,n3550,n3570,n3580}
\grpR{n3520}{538.1}{1054.4}{n3522}{n3521,n3522}
\grpR{n3540}{689.9}{1053.8}{n3543}{n3541,n3542,n3543}
\draw[conn] (n3550.south) |- (1053.9,897.4) -- (1053.9,931.8) -- (n3551.east |- 0,931.8);
\grpR{n3570}{1007.9}{1054.7}{n3572}{n3571,n3572}
\grpR{n3580}{1154.4}{1055.6}{n3583}{n3583}
% DP
\coordinate (dpm) at (1231,349.4);
\draw[conn] (n5000.south) -- (n5000.south |- dpm);
\draw[conn] (1068.7,349.4) -| (n5300.north);
\draw[conn] (n5200.north) -- (n5200.north |- dpm);
\draw[conn] (1068.7,349.4) |- (n5040.west);
\draw[conn] (n5030.west) -- (n5030.west -| 1068.7,0);
\grpR{n5030}{481.6}{1143.1}{n5033}{n5031,n5032,n5033}
\grpR{n5040}{687.3}{1140.7}{n5041}{n5041}
\grpL{n5200}{422.1}{1151.4}{n5250}{n5210,n5230,n5250}
\grpR{n5210}{482.1}{1224.3}{n5216}{n5211,n5212,n5213,n5216}
\grpR{n5230}{749.8}{1223.2}{n5234}{n5231,n5233,n5234}
\grpR{n5250}{966.5}{1222.2}{n5254}{n5252,n5253,n5254}
\grpL{n5300}{423.5}{1239.3}{n5320}{n5310,n5320}
\grpR{n5310}{480.9}{1313.3}{n5313}{n5311,n5312,n5313}
% DS
\draw[conn] (n7000.south) -- (n7000.south |- 0,348.2);
\draw[conn] (n7100.north) |- (n7300.north |- 0,348.2) -- (n7300.north);
\grpL{n7100}{424.4}{1331.3}{n7103}{n7140,n7160,n7170,n7180,n7103}
\grpR{n7140}{483.1}{1404.4}{n7147}{n7141,n7144,n7145,n7147}
\grpR{n7160}{720.1}{1404.7}{n7165}{n7161,n7163,n7164,n7165}
\grpR{n7170}{952.5}{1404.7}{n7171}{n7171}
\grpR{n7180}{1056.7}{1404.7}{n7181}{n7181}
\grpL{n7300}{423.6}{1418.1}{n7330}{n7320,n7330}
\grpR{n7320}{483.1}{1489.2}{n7321}{n7321}
\grpR{n7330}{625.9}{1489.5}{n7331}{n7331}
% OUV
\draw[conn] (n9000.south) -- (n9000.south |- n9001.north);
% legend
\coordinate (la) at (18,1232); \coordinate (lb) at (88,1232);
\draw[line width=0.8pt] (la) -- (lb);
\draw[arrsym] (93.5,1227) -- (104,1232) -- (93.5,1237) -- (96.5,1232) -- cycle;
\draw[arrsym] (96.5,1232) -- (104,1232);
\node[anchor=west,inner sep=0pt,font=\clb\fontsize{17}{18}\selectfont] (leg1) at (115,1231) {\underline{Subordinação}};
\coordinate (lc) at (18,1264); \coordinate (ld) at (88,1264);
\draw[vinc] (lc) -- (ld);
\draw[arrsym] (93.5,1259) -- (104,1264) -- (93.5,1269) -- (96.5,1264) -- cycle;
\draw[arrsym] (96.5,1264) -- (104,1264);
\node[anchor=west,inner sep=0pt,font=\clb\fontsize{17}{18}\selectfont] (leg2) at (115,1264) {\underline{Vinculação Administrativa}};
% notice
\node[bbox,fill=grnf,text=white,minimum width=247.4pt,minimum height=34pt,font=\ars\bfseries\fontsize{10.2}{12.4}\selectfont] (notice) at (1419.2,1267.8)
 {\begin{tabular}{@{}c@{}}Últimas alterações, conforme Ato do Presidente:\\Nº 022/20 de 16/09/2020~ {\fontsize{7.5}{9}\selectfont(Organograma} 011/20)\end{tabular}};
\end{tikzpicture}
\end{document}
